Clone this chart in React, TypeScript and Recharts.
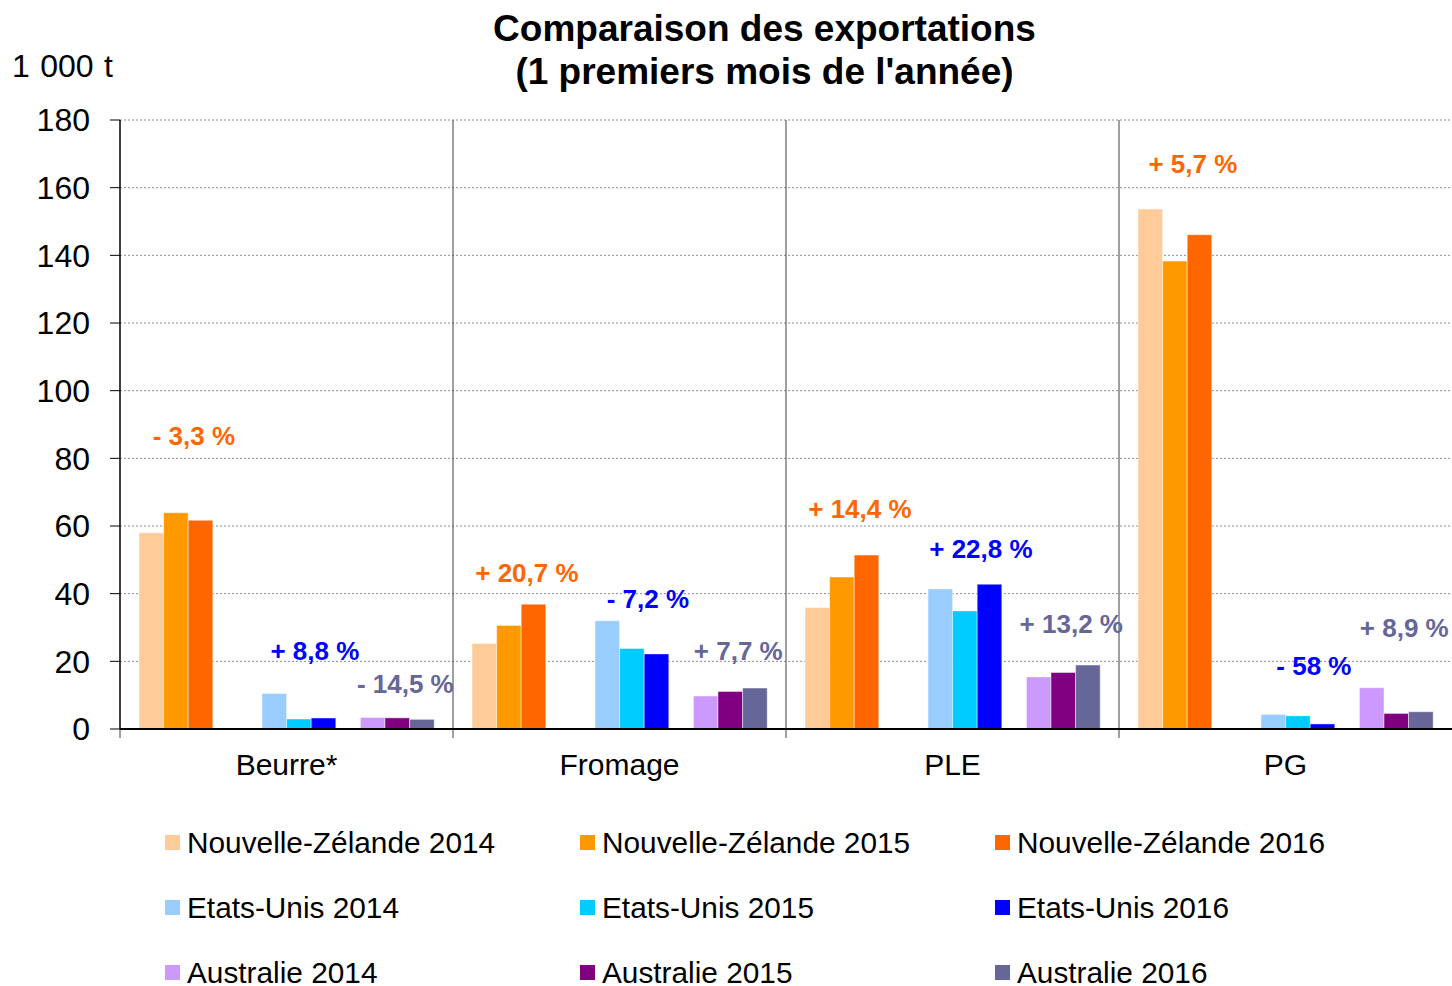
import React from 'react';
import { BarChart, Bar, XAxis, YAxis, CartesianGrid, Legend, LabelList } from 'recharts';

const FONT = '"Liberation Sans", Arial, Helvetica, sans-serif';

// Categories
const categories = ['Beurre*', 'Fromage', 'PLE', 'PG'];

// Series names (legend order)
const seriesNames = [
  'Nouvelle-Zélande 2014',
  'Nouvelle-Zélande 2015',
  'Nouvelle-Zélande 2016',
  'Etats-Unis 2014',
  'Etats-Unis 2015',
  'Etats-Unis 2016',
  'Australie 2014',
  'Australie 2015',
  'Australie 2016',
];

// Series values (1 000 t)
const nz2014 = [58.0, 25.3, 35.9, 153.7];
const nz2015 = [63.9, 30.6, 44.9, 138.3];
const nz2016 = [61.7, 36.9, 51.4, 146.1];
const us2014 = [10.5, 32.0, 41.4, 4.3];
const us2015 = [2.95, 23.8, 34.9, 3.9];
const us2016 = [3.25, 22.2, 42.8, 1.5];
const au2014 = [3.4, 9.75, 15.4, 12.2];
const au2015 = [3.3, 11.1, 16.7, 4.6];
const au2016 = [2.85, 12.1, 18.9, 5.1];

// Change annotations (2016 vs 2015) and the level (1 000 t) at which each is written
const nzChange = ['- 3,3 %', '+ 20,7 %', '+ 14,4 %', '+ 5,7 %'];
const usChange = ['+ 8,8 %', '- 7,2 %', '+ 22,8 %', '- 58 %'];
const auChange = ['- 14,5 %', '+ 7,7 %', '+ 13,2 %', '+ 8,9 %'];
const nzChangeAt = [86.6, 46.1, 65.0, 167.0];
const usChangeAt = [23.1, 38.4, 53.2, 18.6];
const auChangeAt = [13.3, 23.1, 31.0, 29.9];

// Axis ticks
const yTicks = [0, 20, 40, 60, 80, 100, 120, 140, 160, 180];

const data = categories.map((cat, i) => ({
  cat,
  nz2014: nz2014[i],
  nz2015: nz2015[i],
  nz2016: nz2016[i],
  us2014: us2014[i],
  us2015: us2015[i],
  us2016: us2016[i],
  au2014: au2014[i],
  au2015: au2015[i],
  au2016: au2016[i],
}));

const BAR_SIZE = 24.6;

const makeChangeLabel = (
  texts: string[],
  at: number[],
  values: number[],
  color: string,
  dx: number
) => (props: any) => {
  const vb = props && props.viewBox && props.viewBox.width != null ? props.viewBox : props;
  const x = Number(vb.x);
  const y = Number(vb.y);
  const w = Number(vb.width);
  const h = Number(vb.height);
  let index = props.index;
  if (index == null && props.payload) index = categories.indexOf(props.payload.cat);
  if (index == null || isNaN(x) || isNaN(y)) return null;
  const base = y + h;
  const ppu = h / values[index];
  const ly = base - at[index] * ppu;
  return (
    <text
      key={`lbl-${color}-${index}`}
      x={x + w / 2 + dx}
      y={ly}
      textAnchor="middle"
      dominantBaseline="central"
      fill={color}
      fontSize={26}
      fontWeight="bold"
      fontFamily={FONT}
    >
      {texts[index]}
    </text>
  );
};

const renderLegend = (props: any) => {
  const items = (props.payload || [])
    .filter((p: any) => p.type !== 'none' && seriesNames.indexOf(p.value) >= 0)
    .slice()
    .sort((a: any, b: any) => seriesNames.indexOf(a.value) - seriesNames.indexOf(b.value));
  return (
    <div
      style={{
        display: 'grid',
        gridTemplateColumns: '415px 415px 415px',
        gridAutoRows: '65px',
        paddingLeft: 165,
        fontFamily: FONT,
        fontSize: 29.8,
        color: '#000',
      }}
    >
      {items.map((it: any) => (
        <div key={it.value} style={{ display: 'flex', alignItems: 'center', whiteSpace: 'nowrap' }}>
          <span
            style={{
              display: 'inline-block',
              width: 15,
              height: 15,
              background: it.color,
              marginRight: 7,
              flex: 'none',
            }}
          />
          <span>{it.value}</span>
        </div>
      ))}
    </div>
  );
};

// category boundaries (between-tick-marks style), computed from the category band scale
const boundaryGenerator = (props: any) => {
  const xa = props && props.xAxis;
  const s = xa && xa.scale;
  if (s && typeof s === 'function' && typeof s.bandwidth === 'function') {
    return categories.map((c) => s(c)).filter((v: any) => typeof v === 'number');
  }
  const off = props.offset;
  return categories.map((_, i) => off.left + (off.width * i) / categories.length);
};

const separatorLine = (p: any) => (
  <line
    key={p.key ?? `sep-${p.x1}`}
    x1={p.x1}
    x2={p.x2}
    y1={p.y1}
    y2={Number(p.y2) + 9}
    stroke="#404040"
    strokeWidth={1}
  />
);

const barStroke = { stroke: '#ffffff', strokeOpacity: 0.45, strokeWidth: 1 };

export default function App() {
  return (
    <div
      style={{
        position: 'absolute',
        left: 0,
        top: 0,
        width: 1452,
        height: 986,
        background: '#fff',
        fontFamily: FONT,
        overflow: 'hidden',
      }}
    >
      <div
        style={{
          position: 'absolute',
          left: 0,
          top: 6.5,
          width: 1529,
          textAlign: 'center',
          fontSize: 37,
          fontWeight: 'bold',
          lineHeight: '43px',
          color: '#000',
        }}
      >
        <div>Comparaison des exportations</div>
        <div>(1 premiers mois de l'année)</div>
      </div>
      <div
        style={{
          position: 'absolute',
          left: 12,
          top: 46,
          fontSize: 32,
          wordSpacing: 1.5,
          lineHeight: '40px',
          color: '#000',
          whiteSpace: 'nowrap',
        }}
      >
        1 000 t
      </div>
      <BarChart
        width={1452}
        height={986}
        data={data}
        margin={{ top: 120, right: 0, bottom: 197, left: 0 }}
        barGap={0}
        barSize={BAR_SIZE}
      >
        <CartesianGrid
          xAxisId="cat"
          vertical={false}
          stroke="#8c8c8c"
          strokeDasharray="2 2"
        />
        <CartesianGrid
          xAxisId="cat"
          horizontal={false}
          verticalCoordinatesGenerator={boundaryGenerator}
          vertical={separatorLine}
          stroke="#404040"
        />
        <XAxis
          xAxisId="cat"
          dataKey="cat"
          height={60}
          axisLine={{ stroke: '#000', strokeWidth: 2 }}
          tickLine={false}
          tickSize={0}
          tickMargin={25}
          interval={0}
          tick={{ fontSize: 30, fill: '#000', fontFamily: FONT }}
        />
        <YAxis
          domain={[0, 180]}
          ticks={yTicks}
          interval={0}
          width={120}
          axisLine={{ stroke: '#000', strokeWidth: 1.2 }}
          tickLine={{ stroke: '#000' }}
          tickSize={10}
          tickMargin={20}
          tick={{ fontSize: 32, fill: '#000', fontFamily: FONT }}
        />
        <Legend
          layout="horizontal"
          verticalAlign="middle"
          align="center"
          content={renderLegend}
          wrapperStyle={{ top: 810, left: 0, width: 1452 }}
        />
        <Bar xAxisId="cat" dataKey="nz2014" name={seriesNames[0]} fill="#FFCC99" {...barStroke} barSize={BAR_SIZE} isAnimationActive={false} />
        <Bar xAxisId="cat" dataKey="nz2015" name={seriesNames[1]} fill="#FF9900" {...barStroke} barSize={BAR_SIZE} isAnimationActive={false}>
          <LabelList content={makeChangeLabel(nzChange, nzChangeAt, nz2015, '#FF6600', 18)} />
        </Bar>
        <Bar xAxisId="cat" dataKey="nz2016" name={seriesNames[2]} fill="#FF6600" {...barStroke} barSize={BAR_SIZE} isAnimationActive={false} />
        <Bar xAxisId="cat" dataKey="gapA" legendType="none" fill="none" barSize={BAR_SIZE} isAnimationActive={false} />
        <Bar xAxisId="cat" dataKey="gapB" legendType="none" fill="none" barSize={BAR_SIZE} isAnimationActive={false} />
        <Bar xAxisId="cat" dataKey="us2014" name={seriesNames[3]} fill="#99CCFF" {...barStroke} barSize={BAR_SIZE} isAnimationActive={false} />
        <Bar xAxisId="cat" dataKey="us2015" name={seriesNames[4]} fill="#00CCFF" {...barStroke} barSize={BAR_SIZE} isAnimationActive={false}>
          <LabelList content={makeChangeLabel(usChange, usChangeAt, us2015, '#0000FF', 16)} />
        </Bar>
        <Bar xAxisId="cat" dataKey="us2016" name={seriesNames[5]} fill="#0000FF" {...barStroke} barSize={BAR_SIZE} isAnimationActive={false} />
        <Bar xAxisId="cat" dataKey="gapC" legendType="none" fill="none" barSize={BAR_SIZE} isAnimationActive={false} />
        <Bar xAxisId="cat" dataKey="au2014" name={seriesNames[6]} fill="#CC99FF" {...barStroke} barSize={BAR_SIZE} isAnimationActive={false} />
        <Bar xAxisId="cat" dataKey="au2015" name={seriesNames[7]} fill="#800080" {...barStroke} barSize={BAR_SIZE} isAnimationActive={false}>
          <LabelList content={makeChangeLabel(auChange, auChangeAt, au2015, '#666699', 8)} />
        </Bar>
        <Bar xAxisId="cat" dataKey="au2016" name={seriesNames[8]} fill="#666699" {...barStroke} barSize={BAR_SIZE} isAnimationActive={false} />
      </BarChart>
    </div>
  );
}
